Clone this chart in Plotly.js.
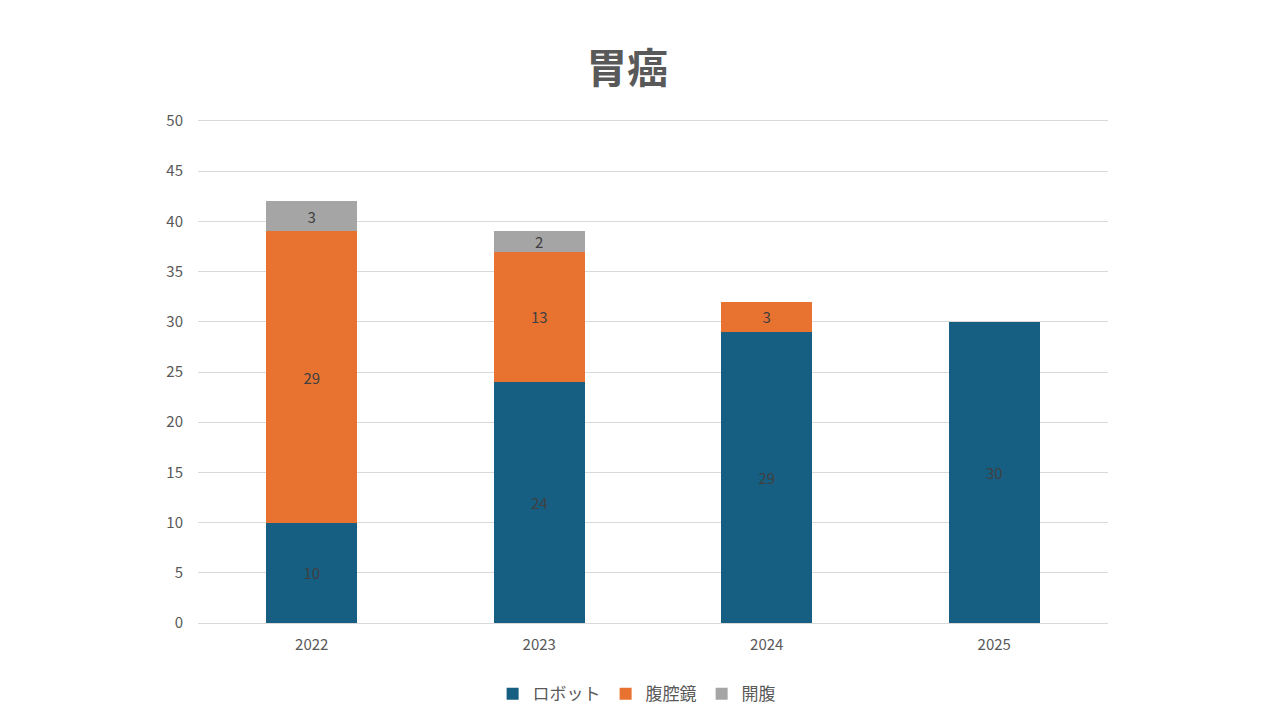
<!DOCTYPE html>
<html>
<head>
<meta charset="utf-8">
<script src="https://cdn.plot.ly/plotly-3.0.1.min.js"></script>
<style>
  html, body { margin: 0; padding: 0; background: #fff; }
  #chart { width: 1280px; height: 720px; }
</style>
</head>
<body>
<div id="chart"></div>
<script>
// 胃癌: 術式別件数
const years = ["2022", "2023", "2024", "2025"];
const robot = [10, 24, 29, 30];
const lap = [29, 13, 3, 0];
const open = [3, 2, 0, 0];

const FONT = '"Noto Sans CJK JP", "Noto Sans", sans-serif';
const label = (v) => v.map((n) => (n ? String(n) : ""));

function seg(name, ys, color) {
  return {
    type: "bar",
    name,
    x: years,
    y: ys,
    text: label(ys),
    textposition: "inside",
    insidetextanchor: "middle",
    textangle: 0,
    constraintext: "none",
    textfont: { color: "#404040", size: 15, family: FONT },
    marker: { color, line: { width: 0 } },
    hoverinfo: "skip",
  };
}

const traces = [
  seg("ロボット", robot, "#175f82"),
  seg("腹腔鏡", lap, "#e87331"),
  seg("開腹", open, "#a5a5a5"),
];

const layout = {
  barmode: "stack",
  bargap: 0.6,
  paper_bgcolor: "#fff",
  plot_bgcolor: "#fff",
  margin: { l: 198, r: 172, t: 121, b: 97, autoexpand: false },
  font: { family: FONT, color: "#595959", size: 15 },
  title: {
    text: "<b>胃癌</b>",
    x: 0.49,
    xanchor: "center",
    y: 0.905,
    yanchor: "middle",
    font: { size: 41, color: "#595959", family: FONT },
  },
  xaxis: {
    showgrid: false,
    showline: true,
    mirror: true, // top edge stands in for the 50 gridline
    linecolor: "#d9d9d9",
    linewidth: 1,
    ticks: "",
    ticklabelstandoff: 8,
    tickfont: { size: 15, color: "#595959" },
  },
  yaxis: {
    range: [0, 50],
    dtick: 5,
    gridcolor: "#d9d9d9",
    gridwidth: 1,
    zeroline: false,
    showline: false,
    ticks: "",
    ticklabelstandoff: 14,
    tickfont: { size: 15, color: "#595959" },
  },
  legend: {
    orientation: "h",
    x: 0.482,
    xanchor: "center",
    yref: "container",
    y: 0.036,
    yanchor: "middle",
    font: { size: 17, color: "#595959" },
    traceorder: "normal",
    itemwidth: 30,
  },
  showlegend: true,
};

Plotly.newPlot("chart", traces, layout, { displayModeBar: false, staticPlot: true });
</script>
</body>
</html>
